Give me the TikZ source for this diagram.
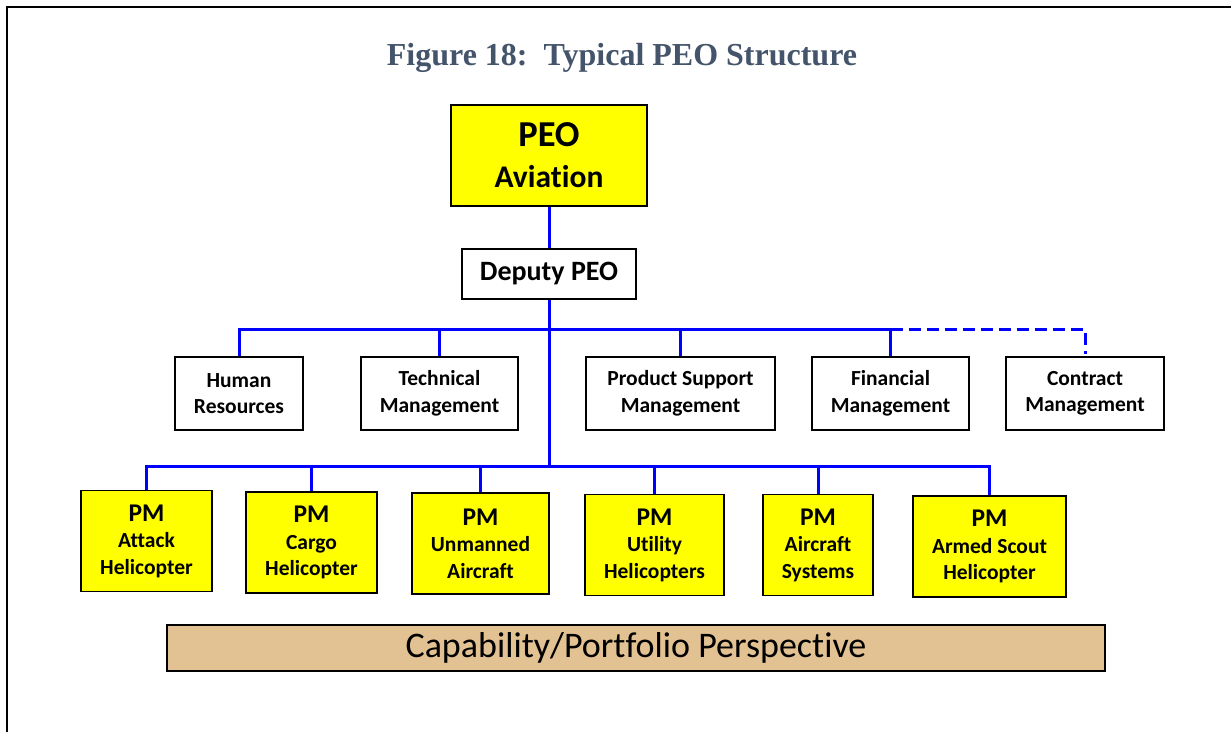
\documentclass[tikz,border=0pt]{standalone}
\usepackage{fontspec}
\setmainfont{Liberation Serif}
\newfontfamily\calib[Ligatures=NoCommon]{Carlito}
\usetikzlibrary{calc}
\definecolor{titleblue}{RGB}{68,84,106}
\definecolor{peoyellow}{RGB}{255,255,0}
\definecolor{tan}{RGB}{226,193,146}
\definecolor{busblue}{RGB}{0,0,255}
\tikzstyle{bus} = [draw=busblue, line width=3pt]
\tikzstyle{box} = [draw, line width=1.6pt, rectangle, align=center, inner sep=0pt, font=\calib\bfseries\fontsize{21.5}{26.5}\selectfont]
\tikzstyle{staff} = [box, fill=white, minimum height=73pt]
\tikzstyle{pm} = [box, fill=peoyellow, minimum height=101pt]
\newcommand{\pmhead}{{\fontsize{25.5}{27}\selectfont PM}}

\begin{document}
\begin{tikzpicture}[x=1pt, y=-1pt]
        \useasboundingbox (0,0) rectangle (1231,732);
        \draw[line width=2pt] (7,732) -- (7,7) -- (1231,7);
        \node[font=\bfseries\fontsize{32}{36}\selectfont, text=titleblue] (title) at (622,58) {Figure 18:\ \ Typical PEO Structure};
        \node[box, fill=peoyellow, minimum width=196pt, minimum height=101pt, font=\calib\bfseries\fontsize{31.5}{41}\selectfont] (peo) at (549,155.5) {{\fontsize{36.5}{41}\selectfont PEO}\\Aviation};
        \node[box, fill=white, minimum width=174pt, minimum height=50pt, font=\calib\bfseries\fontsize{28}{32}\selectfont] (deputy) at (549,274) {Deputy PEO};
        \node[staff, minimum width=128pt] (hr) at (239,393.5) {Human\\Resources};
        \node[staff, minimum width=157pt] (tech) at (439.5,393.5) {Technical\\Management};
        \node[staff, minimum width=189pt] (psm) at (680.5,393.5) {Product Support\\Management};
        \node[staff, minimum width=157pt] (fin) at (890.5,393.5) {Financial\\Management};
        \node[staff, minimum width=158pt] (con) at (1085,393.5) {Contract\\Management};
        \node[pm, minimum width=131pt] (attack) at (146.5,541) {\pmhead\\Attack\\Helicopter};
        \node[pm, minimum width=131pt] (cargo) at (311.5,542.5) {\pmhead\\Cargo\\Helicopter};
        \node[pm, minimum width=137pt] (uas) at (480.5,543.5) {\pmhead\\Unmanned\\Aircraft};
        \node[pm, minimum width=139pt] (utility) at (654.5,545) {\pmhead\\Utility\\Helicopters};
        \node[pm, minimum width=110pt] (acs) at (818,545) {\pmhead\\Aircraft\\Systems};
        \node[pm, minimum width=153pt] (scout) at (989.5,546.5) {\pmhead\\Armed Scout\\Helicopter};
        \node[draw, line width=1.6pt, fill=tan, minimum width=938pt, minimum height=46pt, inner sep=0pt, font=\calib\fontsize{36}{40}\selectfont] (capability) at (636,648) {\raisebox{-4pt}{Capability/Portfolio Perspective}};
        \coordinate (staffbus) at (549,329);
        \coordinate (pmbus) at (549,466);
        \path[bus] (peo) -- (deputy);
        \path[bus] (deputy) -- (pmbus);
        \path[bus] (hr.north) -- (hr.north |- staffbus) -- (fin.north |- staffbus);
        \foreach \n in {tech,psm,fin}
            \path[bus] (\n.north) -- (\n.north |- staffbus);
        \path[bus, dash pattern=on 12pt off 6pt] (fin.north |- staffbus) -| ($(con.north)+(0,-2)$);
        \path[bus] (attack.north) -- (attack.north |- pmbus) -- (scout.north |- pmbus) -- (scout.north);
        \foreach \n in {cargo,uas,utility,acs}
            \path[bus] (\n.north) -- (\n.north |- pmbus);
    \end{tikzpicture}
\end{document}
